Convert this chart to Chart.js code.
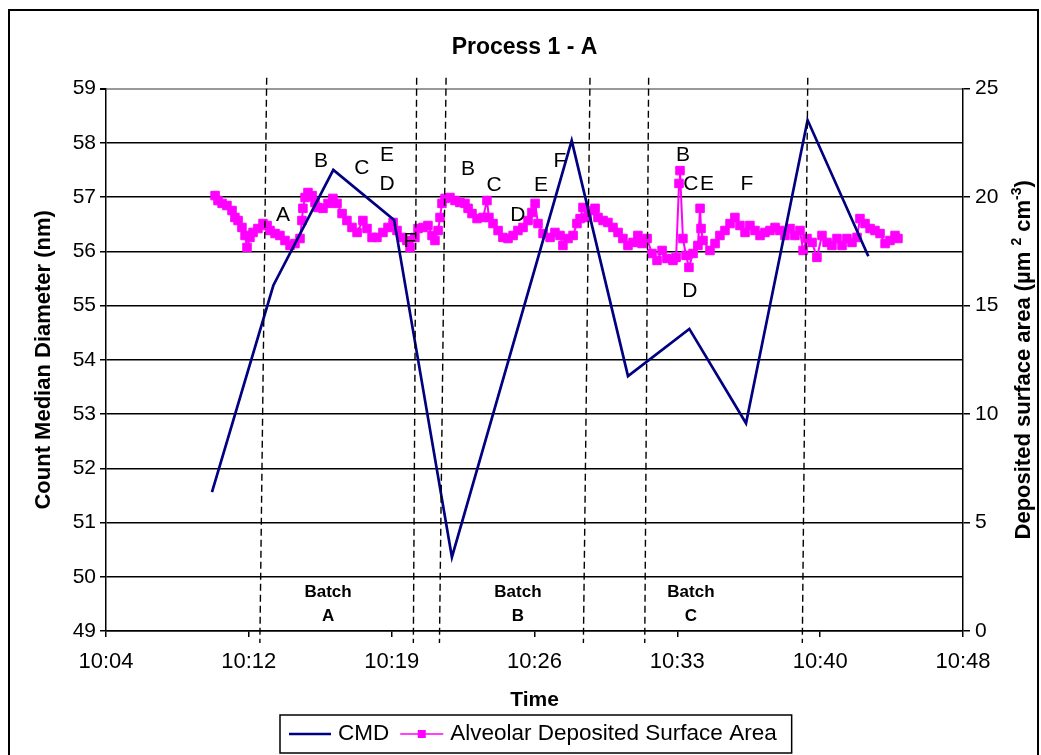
<!DOCTYPE html>
<html>
<head>
<meta charset="utf-8">
<title>Process 1 - A</title>
<script src="https://cdn.jsdelivr.net/npm/chart.js@4.4.1/dist/chart.umd.min.js"></script>
<style>
  body { margin: 0; background: #fff; }
  #wrap { position: relative; width: 1041px; height: 755px; overflow: hidden; }
  #frame { position: absolute; left: 8px; top: 9px; width: 1027px; height: 800px; border: 2px solid #000; }
  canvas { position: absolute; left: 0; top: 0; }
</style>
</head>
<body>
<div id="wrap"><div id="frame"></div><canvas id="chart" width="1041" height="755"></canvas></div>
<script>
// time is in minutes after 10:00
const tickMinutes = [4, 11.33, 18.67, 26, 33.33, 40.67, 48];
const tickLabels = ["10:04", "10:12", "10:19", "10:26", "10:33", "10:40", "10:48"];

// CMD (left axis, nm)
const cmdTime = [9.44, 12.59, 15.67, 18.79, 21.76, 27.91, 30.80, 33.95, 36.86, 40.02, 43.14];
const cmdValue = [51.56, 55.37, 57.50, 56.58, 50.36, 58.04, 53.70, 54.57, 52.83, 58.42, 55.91];

// Alveolar deposited surface area (right axis)
const areaTime = [9.60, 9.75, 9.96, 10.21, 10.47, 10.62, 10.78, 10.98, 11.14, 11.24,
  11.39, 11.55, 11.80, 12.06, 12.27, 12.42, 12.68, 12.93, 13.19, 13.45,
  13.70, 13.96, 14.06, 14.11, 14.22, 14.37, 14.58, 14.73, 14.88, 15.14,
  15.40, 15.65, 15.86, 16.12, 16.37, 16.63, 16.89, 17.19, 17.40, 17.66,
  17.91, 18.22, 18.48, 18.74, 18.94, 19.20, 19.45, 19.61, 19.86, 20.02,
  20.28, 20.53, 20.74, 20.89, 21.05, 21.15, 21.25, 21.41, 21.66, 21.92,
  22.17, 22.43, 22.59, 22.79, 23.05, 23.36, 23.56, 23.66, 23.87, 24.13,
  24.38, 24.64, 24.90, 25.15, 25.41, 25.67, 25.87, 26.03, 26.18, 26.44,
  26.80, 27.05, 27.31, 27.46, 27.72, 27.98, 28.18, 28.34, 28.49, 28.70,
  28.85, 29.11, 29.26, 29.52, 29.77, 30.03, 30.29, 30.54, 30.80, 31.06,
  31.31, 31.52, 31.78, 32.03, 32.29, 32.55, 32.80, 33.11, 33.27, 33.42,
  33.47, 33.62, 33.78, 33.93, 34.14, 34.39, 34.50, 34.55, 34.65, 35.01,
  35.27, 35.52, 35.78, 36.04, 36.29, 36.55, 36.81, 37.06, 37.32, 37.58,
  37.83, 38.09, 38.35, 38.60, 38.86, 39.12, 39.37, 39.63, 39.79, 39.99,
  40.25, 40.50, 40.76, 41.02, 41.27, 41.53, 41.79, 42.04, 42.30, 42.56,
  42.71, 42.97, 43.23, 43.48, 43.74, 44.00, 44.25, 44.51, 44.66];
const areaValue = [20.07, 19.84, 19.71, 19.61, 19.38, 19.06, 18.92, 18.60, 18.23, 17.68,
  18.14, 18.37, 18.55, 18.78, 18.69, 18.46, 18.32, 18.23, 18.00, 17.77,
  17.86, 18.09, 18.92, 19.48, 19.98, 20.21, 20.07, 19.75, 19.52, 19.48,
  19.71, 19.94, 19.71, 19.24, 18.92, 18.60, 18.37, 18.92, 18.55, 18.14,
  18.14, 18.37, 18.60, 18.83, 18.46, 18.14, 18.00, 17.68, 18.14, 18.55,
  18.60, 18.69, 18.23, 18.00, 18.46, 19.06, 19.71, 19.94, 19.98, 19.84,
  19.75, 19.71, 19.48, 19.24, 19.01, 19.06, 19.84, 19.06, 18.78, 18.46,
  18.14, 18.09, 18.23, 18.46, 18.60, 18.92, 19.29, 19.71, 18.78, 18.32,
  18.14, 18.37, 18.23, 17.77, 18.09, 18.23, 18.78, 19.01, 19.52, 19.06,
  19.38, 19.48, 19.06, 18.92, 18.83, 18.60, 18.37, 18.09, 17.77, 17.91,
  18.23, 17.86, 18.09, 17.40, 17.08, 17.54, 17.17, 17.08, 17.22, 20.63,
  21.22, 18.09, 17.31, 16.76, 17.40, 17.77, 19.48, 18.55, 18.00, 17.54,
  17.86, 18.23, 18.46, 18.78, 19.06, 18.69, 18.37, 18.69, 18.46, 18.23,
  18.37, 18.46, 18.60, 18.46, 18.23, 18.55, 18.23, 18.46, 17.54, 18.09,
  17.91, 17.22, 18.23, 17.91, 17.77, 18.09, 17.77, 18.09, 17.91, 18.14,
  19.01, 18.78, 18.55, 18.46, 18.32, 17.86, 18.00, 18.23, 18.09];

// dashed batch boundaries (slightly slanted, as drawn)
const batchLineTop = [12.25, 19.95, 21.46, 28.85, 31.86, 40.03];
const batchLineBottom = [11.90, 19.78, 21.12, 28.51, 31.66, 39.75];
const lineTopValue = 59.2;
const lineBottomValue = 48.78;

// letter notes inside the plot (placed on the CMD axis)
const noteText = ["A", "B", "C", "E", "D", "F", "B", "C", "D", "E", "F", "B", "C", "E", "D", "F"];
const noteTime = [13.09, 15.04, 17.14, 18.43, 18.43, 19.60, 22.59, 23.92, 25.15, 26.33, 27.31, 33.62, 34.03, 34.86, 33.98, 36.91];
const noteValue = [56.66, 57.67, 57.53, 57.78, 57.23, 56.18, 57.51, 57.21, 56.66, 57.21, 57.67, 57.77, 57.23, 57.23, 55.26, 57.23];

const batchName = ["A", "B", "C"];
const batchTime = [15.40, 25.15, 34.03];
const batchWordValue = 49.72;
const batchLetterValue = 49.28;

const FONT = "'Liberation Sans', Arial, sans-serif";
Chart.defaults.font.family = FONT;
Chart.defaults.color = "#000";

const notesPlugin = {
  id: "notes",
  afterDatasetsDraw(chart) {
    const { ctx, scales: { x, y } } = chart;
    ctx.save();
    ctx.fillStyle = "#000";
    ctx.textAlign = "center";
    ctx.textBaseline = "middle";
    ctx.font = "21px " + FONT;
    noteText.forEach((t, i) => {
      ctx.fillText(t, x.getPixelForValue(noteTime[i]), y.getPixelForValue(noteValue[i]));
    });
    ctx.font = "bold 17px " + FONT;
    batchName.forEach((b, i) => {
      const px = x.getPixelForValue(batchTime[i]);
      ctx.fillText("Batch", px, y.getPixelForValue(batchWordValue));
      ctx.fillText(b, px, y.getPixelForValue(batchLetterValue));
    });
    ctx.restore();
  },
};

// right axis title reads bottom-to-top and has superscripts
const rightTitlePlugin = {
  id: "rightTitle",
  afterDraw(chart) {
    const { ctx, chartArea } = chart;
    const parts = [["Deposited surface area (\u00b5m ", false], ["2", true], [" cm", false], ["-3", true], [")", false]];
    const big = "bold 22px " + FONT;
    const small = "bold 14px " + FONT;
    ctx.save();
    ctx.translate(1024, (chartArea.top + chartArea.bottom) / 2);
    ctx.rotate(-Math.PI / 2);
    let total = 0;
    parts.forEach(([s, sup]) => {
      ctx.font = sup ? small : big;
      total += ctx.measureText(s).width;
    });
    let px = -total / 2;
    ctx.textBaseline = "middle";
    ctx.fillStyle = "#000";
    parts.forEach(([s, sup]) => {
      ctx.font = sup ? small : big;
      ctx.fillText(s, px, sup ? -7 : 0);
      px += ctx.measureText(s).width;
    });
    ctx.restore();
  },
};

// boxed legend under the axis title
const boxLegendPlugin = {
  id: "boxLegend",
  afterDraw(chart) {
    const { ctx } = chart;
    const cmd = chart.data.datasets.find((d) => d.label === "CMD");
    const area = chart.data.datasets.find((d) => d.label === "Alveolar Deposited Surface Area");
    const top = 715, h = 38, left = 280;
    const cy = top + h / 2;
    ctx.save();
    ctx.font = "22.5px " + FONT;
    ctx.textBaseline = "middle";
    let px = left + 9;
    ctx.strokeStyle = cmd.borderColor;
    ctx.lineWidth = cmd.borderWidth;
    ctx.beginPath();
    ctx.moveTo(px, cy);
    ctx.lineTo(px + 42, cy);
    ctx.stroke();
    px += 49;
    ctx.fillStyle = "#000";
    ctx.fillText(cmd.label, px, cy);
    px += ctx.measureText(cmd.label).width + 11;
    ctx.strokeStyle = area.borderColor;
    ctx.lineWidth = 1.5;
    ctx.beginPath();
    ctx.moveTo(px, cy);
    ctx.lineTo(px + 43, cy);
    ctx.stroke();
    ctx.fillStyle = area.pointBackgroundColor;
    ctx.fillRect(px + 21.5 - 4, cy - 4, 8, 8);
    px += 50;
    ctx.fillStyle = "#000";
    ctx.fillText(area.label, px, cy);
    px += ctx.measureText(area.label).width + 15;
    ctx.strokeStyle = "#000";
    ctx.lineWidth = 1.5;
    ctx.strokeRect(left, top, px - left, h);
    ctx.restore();
  },
};

const datasets = [];
batchLineTop.forEach((t, i) => {
  datasets.push({
    label: "batch" + i,
    data: [{ x: t, y: lineTopValue }, { x: batchLineBottom[i], y: lineBottomValue }],
    yAxisID: "y",
    borderColor: "#000",
    borderWidth: 1.4,
    borderDash: [7, 4],
    pointRadius: 0,
    clip: false,
    order: 0,
  });
});
datasets.push({
  label: "CMD",
  data: cmdTime.map((t, i) => ({ x: t, y: cmdValue[i] })),
  yAxisID: "y",
  borderColor: "#000080",
  borderWidth: 2.7,
  pointRadius: 0,
  order: 1,
});
datasets.push({
  label: "Alveolar Deposited Surface Area",
  data: areaTime.map((t, i) => ({ x: t, y: areaValue[i] })),
  yAxisID: "y2",
  borderColor: "#ff00ff",
  borderWidth: 2,
  pointStyle: "rect",
  pointRadius: 6,
  pointBorderWidth: 1,
  pointBackgroundColor: "#ff00ff",
  pointBorderColor: "#ff00ff",
  order: 2,
});

new Chart(document.getElementById("chart"), {
  type: "line",
  data: { datasets },
  options: {
    responsive: false,
    animation: false,
    devicePixelRatio: 1,
    events: [],
    layout: { padding: { left: 8, right: 0, top: 0, bottom: 0 } },
    plugins: {
      legend: { display: false },
      tooltip: { enabled: false },
      title: {
        display: true,
        text: "Process 1 - A",
        font: { size: 23, weight: "bold" },
        color: "#000",
        padding: { top: 34, bottom: 27 },
      },
    },
    scales: {
      x: {
        type: "linear",
        min: 4,
        max: 48,
        afterBuildTicks: (axis) => {
          axis.ticks = tickMinutes.map((v) => ({ value: v }));
        },
        afterFit: (axis) => {
          axis.height = 124;
        },
        ticks: {
          callback: (value, index) => tickLabels[index],
          font: { size: 22 },
          padding: 12,
          maxRotation: 0,
          autoSkip: false,
        },
        grid: { drawOnChartArea: false, tickLength: 6, color: "#000", lineWidth: 1.5 },
        border: { color: "#000", width: 1.5 },
        title: {
          display: true,
          text: "Time",
          font: { size: 21, weight: "bold" },
          padding: { top: 0, bottom: 42 },
        },
      },
      y: {
        position: "left",
        min: 49,
        max: 59,
        afterFit: (axis) => {
          axis.width = 98;
        },
        ticks: { stepSize: 1, font: { size: 21 }, padding: 4 },
        grid: {
          color: (c) => (c.tick && c.tick.value === 59 ? "#999" : "#000"),
          lineWidth: (c) => (c.tick && c.tick.value === 59 ? 2 : 1.5),
          tickColor: "#000",
          tickLength: 6,
        },
        border: { color: "#000", width: 1.5 },
        title: {
          display: true,
          text: "Count Median Diameter (nm)",
          font: { size: 22, weight: "bold" },
          padding: { top: 23, bottom: 0 },
        },
      },
      y2: {
        position: "right",
        min: 0,
        max: 25,
        afterFit: (axis) => {
          axis.width = 78;
        },
        ticks: { stepSize: 5, font: { size: 21 }, padding: 5 },
        grid: { drawOnChartArea: false, tickLength: 7, color: "#000", lineWidth: 1.5 },
        border: { color: "#000", width: 1.5 },
      },
    },
  },
  plugins: [notesPlugin, rightTitlePlugin, boxLegendPlugin],
});
</script>
</body>
</html>
